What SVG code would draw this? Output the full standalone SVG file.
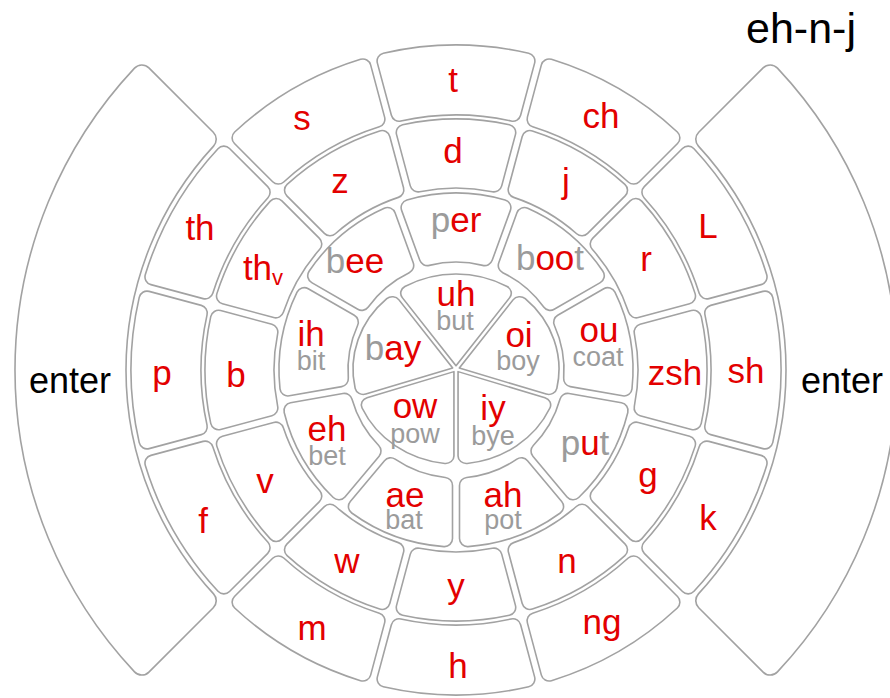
<svg xmlns="http://www.w3.org/2000/svg" xmlns:xlink="http://www.w3.org/1999/xlink" width="890" height="698" viewBox="0 0 890 698">
<style>
.key{fill:#fff;stroke:#a2a2a2;stroke-width:1.6;stroke-linejoin:round}
text{font-family:"Liberation Sans",Arial,sans-serif;text-anchor:middle}
.r{fill:#e30000;font-size:35px}
.s{fill:#9b9b9b;font-size:27px}
.g{fill:#9b9b9b}
.b{fill:#000;font-size:36px}
</style>
<defs>
<path id="w0" d="M -49.64 -86.81 A 100 100 0 0 1 49.64 -86.81 A 8 8 0 0 1 52.14 -75.17 L 0 -3.4 L -52.14 -75.17 A 8 8 0 0 1 -49.64 -86.81 Z"/>
<path id="k1" d="M -49.08 -170.06 A 177 177 0 0 1 49.08 -170.06 A 8 8 0 0 1 54.38 -159.63 L 36.19 -109.66 A 8 8 0 0 1 26.69 -104.65 A 108 108 0 0 0 -26.69 -104.65 A 8 8 0 0 1 -36.19 -109.66 L -54.38 -159.63 A 8 8 0 0 1 -49.08 -170.06 Z"/>
<path id="k2" d="M -53.41 -245.26 A 251 251 0 0 1 53.41 -245.26 A 8 8 0 0 1 59.44 -235.37 L 45.71 -184.10 A 8 8 0 0 1 36.38 -178.33 A 182 182 0 0 0 -36.38 -178.33 A 8 8 0 0 1 -45.71 -184.10 L -59.44 -235.37 A 8 8 0 0 1 -53.41 -245.26 Z"/>
<path id="k3" d="M -72.67 -316.77 A 325 325 0 0 1 72.67 -316.77 A 8 8 0 0 1 78.61 -306.90 L 64.62 -254.71 A 8 8 0 0 1 55.16 -248.97 A 255 255 0 0 0 -55.16 -248.97 A 8 8 0 0 1 -64.62 -254.71 L -78.61 -306.90 A 8 8 0 0 1 -72.67 -316.77 Z"/>
<path id="ke" d="M -301.92 -321.46 A 441 441 0 0 1 301.92 -321.46 A 10 10 0 0 1 302.14 -307.10 L 237.75 -242.71 A 10 10 0 0 1 223.90 -242.43 A 330 330 0 0 0 -223.90 -242.43 A 10 10 0 0 1 -237.75 -242.71 L -302.14 -307.10 A 10 10 0 0 1 -301.92 -321.46 Z"/>
</defs>
<rect width="890" height="698" fill="#fff"/>
<g id="connectors"/>

<g id="enter-left"><use xlink:href="#ke" class="key" transform="translate(456 370) rotate(-90)"/><text class="b" x="70" y="393">enter</text></g>
<g id="enter-right"><use xlink:href="#ke" class="key" transform="translate(456 370) rotate(90)"/><text class="b" x="842" y="393">enter</text></g>

<g id="key-t"><use xlink:href="#k3" class="key" transform="translate(456 370) rotate(0)"/><text class="r" x="453" y="92">t</text></g>
<g id="key-ch"><use xlink:href="#k3" class="key" transform="translate(456 370) rotate(30)"/><text class="r" x="601" y="128">ch</text></g>
<g id="key-L"><use xlink:href="#k3" class="key" transform="translate(456 370) rotate(60)"/><text class="r" x="708" y="238">L</text></g>
<g id="key-sh"><use xlink:href="#k3" class="key" transform="translate(456 370) rotate(90)"/><text class="r" x="746" y="383">sh</text></g>
<g id="key-k"><use xlink:href="#k3" class="key" transform="translate(456 370) rotate(120)"/><text class="r" x="708" y="530">k</text></g>
<g id="key-ng"><use xlink:href="#k3" class="key" transform="translate(456 370) rotate(150)"/><text class="r" x="602" y="634">ng</text></g>
<g id="key-h"><use xlink:href="#k3" class="key" transform="translate(456 370) rotate(180)"/><text class="r" x="458" y="678">h</text></g>
<g id="key-m"><use xlink:href="#k3" class="key" transform="translate(456 370) rotate(210)"/><text class="r" x="312" y="640">m</text></g>
<g id="key-f"><use xlink:href="#k3" class="key" transform="translate(456 370) rotate(240)"/><text class="r" x="203" y="533">f</text></g>
<g id="key-p"><use xlink:href="#k3" class="key" transform="translate(456 370) rotate(270)"/><text class="r" x="162" y="385">p</text></g>
<g id="key-th"><use xlink:href="#k3" class="key" transform="translate(456 370) rotate(300)"/><text class="r" x="200" y="240">th</text></g>
<g id="key-s"><use xlink:href="#k3" class="key" transform="translate(456 370) rotate(330)"/><text class="r" x="302" y="130">s</text></g>

<g id="key-d"><use xlink:href="#k2" class="key" transform="translate(456 370) rotate(0)"/><text class="r" x="453" y="163">d</text></g>
<g id="key-j"><use xlink:href="#k2" class="key" transform="translate(456 370) rotate(30)"/><text class="r" x="566" y="193">j</text></g>
<g id="key-r"><use xlink:href="#k2" class="key" transform="translate(456 370) rotate(60)"/><text class="r" x="646" y="271">r</text></g>
<g id="key-zsh"><use xlink:href="#k2" class="key" transform="translate(456 370) rotate(90)"/><text class="r" x="675" y="385">zsh</text></g>
<g id="key-g"><use xlink:href="#k2" class="key" transform="translate(456 370) rotate(120)"/><text class="r" x="648" y="487">g</text></g>
<g id="key-n"><use xlink:href="#k2" class="key" transform="translate(456 370) rotate(150)"/><text class="r" x="567" y="573">n</text></g>
<g id="key-y"><use xlink:href="#k2" class="key" transform="translate(456 370) rotate(180)"/><text class="r" x="456" y="598">y</text></g>
<g id="key-w"><use xlink:href="#k2" class="key" transform="translate(456 370) rotate(210)"/><text class="r" x="347" y="573">w</text></g>
<g id="key-v"><use xlink:href="#k2" class="key" transform="translate(456 370) rotate(240)"/><text class="r" x="265" y="493">v</text></g>
<g id="key-b"><use xlink:href="#k2" class="key" transform="translate(456 370) rotate(270)"/><text class="r" x="236" y="387">b</text></g>
<g id="key-thv"><use xlink:href="#k2" class="key" transform="translate(456 370) rotate(300)"/><text class="r" x="263" y="280">th<tspan font-size="22" dy="5">v</tspan></text></g>
<g id="key-z"><use xlink:href="#k2" class="key" transform="translate(456 370) rotate(330)"/><text class="r" x="340" y="193">z</text></g>

<g id="key-per"><use xlink:href="#k1" class="key" transform="translate(456 370) rotate(0)"/><text class="r" x="456" y="232"><tspan class="g">p</tspan>er</text></g>
<g id="key-boot"><use xlink:href="#k1" class="key" transform="translate(456 370) rotate(40)"/><text class="r" x="550" y="270"><tspan class="g">b</tspan>oo<tspan class="g">t</tspan></text></g>
<g id="key-ou"><use xlink:href="#k1" class="key" transform="translate(456 370) rotate(80)"/><text class="r" x="599" y="342">ou<tspan class="s" x="598" dy="24">coat</tspan></text></g>
<g id="key-put"><use xlink:href="#k1" class="key" transform="translate(456 370) rotate(120)"/><text class="r" x="585" y="455"><tspan class="g">p</tspan>u<tspan class="g">t</tspan></text></g>
<g id="key-ah"><use xlink:href="#k1" class="key" transform="translate(456 370) rotate(160)"/><text class="r" x="503" y="507">ah<tspan class="s" x="503" dy="22">pot</tspan></text></g>
<g id="key-ae"><use xlink:href="#k1" class="key" transform="translate(456 370) rotate(200)"/><text class="r" x="405" y="507">ae<tspan class="s" x="404" dy="22">bat</tspan></text></g>
<g id="key-eh"><use xlink:href="#k1" class="key" transform="translate(456 370) rotate(240)"/><text class="r" x="327" y="441">eh<tspan class="s" x="327" dy="24">bet</tspan></text></g>
<g id="key-ih"><use xlink:href="#k1" class="key" transform="translate(456 370) rotate(280)"/><text class="r" x="311" y="346">ih<tspan class="s" x="311" dy="24">bit</tspan></text></g>
<g id="key-bee"><use xlink:href="#k1" class="key" transform="translate(456 370) rotate(320)"/><text class="r" x="355" y="273"><tspan class="g">b</tspan>ee</text></g>

<g id="key-uh"><use xlink:href="#w0" class="key" transform="translate(456 369) scale(1.03 0.95) rotate(0)"/><text class="r" x="456" y="306">uh<tspan class="s" x="455" dy="24">but</tspan></text></g>
<g id="key-oi"><use xlink:href="#w0" class="key" transform="translate(456 369) scale(1.03 0.95) rotate(72)"/><text class="r" x="519" y="347">oi<tspan class="s" x="518" dy="23">boy</tspan></text></g>
<g id="key-iy"><use xlink:href="#w0" class="key" transform="translate(456 369) scale(1.03 0.95) rotate(144)"/><text class="r" x="493" y="420">iy<tspan class="s" x="493" dy="25">bye</tspan></text></g>
<g id="key-ow"><use xlink:href="#w0" class="key" transform="translate(456 369) scale(1.03 0.95) rotate(216)"/><text class="r" x="415" y="418">ow<tspan class="s" x="415" dy="25">pow</tspan></text></g>
<g id="key-bay"><use xlink:href="#w0" class="key" transform="translate(456 369) scale(1.03 0.95) rotate(288)"/><text class="r" x="393" y="360"><tspan class="g">b</tspan>ay</text></g>

<g id="title"><text x="801" y="43" style="font-size:43px;fill:#000">eh-n-j</text></g>
</svg>
